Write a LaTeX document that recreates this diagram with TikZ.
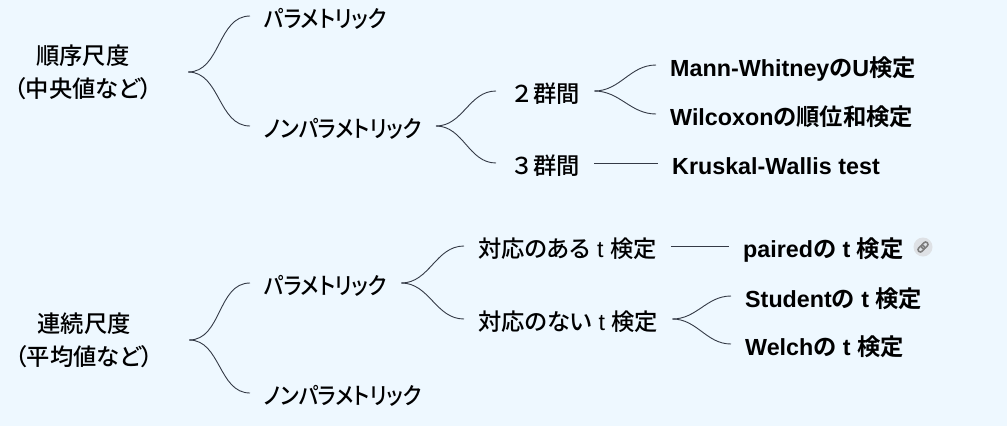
\documentclass[tikz,border=0pt]{standalone}
\usepackage{fontspec}
\setmainfont{Liberation Sans}
\newfontfamily\jp[RawFeature=+palt,BoldFont={Noto Sans CJK JP Bold}]{Noto Sans CJK JP Medium}
\newfontfamily\jpfull{Noto Sans CJK JP Medium}
\newfontfamily\katakana[RawFeature=+palt,FakeStretch=0.89]{Noto Sans CJK JP Medium}
\newcommand\ja[1]{{\jp #1}}
\newcommand\kt[1]{{\katakana #1}}
\definecolor{bgblue}{RGB}{238,248,255}
\definecolor{branchline}{RGB}{52,58,70}
\definecolor{iconbg}{RGB}{222,225,229}
\definecolor{icongray}{RGB}{125,125,125}
\begin{document}
\begin{tikzpicture}[x=1pt,y=-1pt,
    roottext/.style={align=center,minimum width=210pt,inner sep=0pt,font=\fontsize{23.3}{33}\selectfont\jp},
    branchtext/.style={anchor=west,inner xsep=14pt,inner ysep=0pt,text height=22pt,text depth=0pt,font=\fontsize{23.3}{28}\selectfont},
    leaftext/.style={branchtext,font=\fontsize{23.3}{28}\selectfont\bfseries},
    branch/.style={draw=branchline,line width=0.9pt},
    fork/.style={branch,out=0,in=180}]
    \fill[bgblue] (0,0) rectangle (1007,426);
    \useasboundingbox (0,0) rectangle (1007,426);
         \node[roottext] (ord) at (83,72) {順序尺度\\（中央値など）};
             \node[branchtext] (ordpara) at (250,16) {\kt{パラメトリック}};
             \node[branchtext] (ordnonpara) at (250,126) {\kt{ノンパラメトリック}};
             \draw[fork] (ord.east) to (ordpara.west);
             \draw[fork] (ord.east) to (ordnonpara.west);
         \node[branchtext] (two) at (496,91) {{\jpfull ２群間}};
         \node[branchtext] (three) at (496,163) {{\jpfull ３群間}};
             \draw[fork] (ordnonpara.east) to (two.west);
             \draw[fork] (ordnonpara.east) to (three.west);
         \node[leaftext] (mann) at (656,65) {Mann-Whitney\ja{の}U\ja{検定}};
         \node[leaftext] (wilcoxon) at (656,114) {Wilcoxon\ja{の順位和検定}};
         \node[leaftext] (kruskal) at (658,163) {Kruskal-Wallis test};
             \draw[fork] (two.east) to (mann.west);
             \draw[fork] (two.east) to (wilcoxon.west);
             \draw[branch] (three.east) to (kruskal.west);
         \node[roottext] (cont) at (84,340) {連続尺度\\（平均値など）};
             \node[branchtext] (contpara) at (250,283) {\kt{パラメトリック}};
             \node[branchtext] (contnonpara) at (250,393) {\kt{ノンパラメトリック}};
             \draw[fork] (cont.east) to (contpara.west);
             \draw[fork] (cont.east) to (contnonpara.west);
         \node[branchtext] (paired) at (464,246) {\ja{対応のある} t \ja{検定}};
         \node[branchtext] (unpaired) at (464,319) {\ja{対応のない} t \ja{検定}};
             \draw[fork] (contpara.east) to (paired.west);
             \draw[fork] (contpara.east) to (unpaired.west);
         \node[leaftext] (pairedt) at (729,246) {paired\ja{の} t \ja{検定}};
         \node[leaftext] (student) at (731,296) {Student\ja{の} t \ja{検定}};
         \node[leaftext] (welch) at (731,344) {Welch\ja{の} t \ja{検定}};
             \draw[branch] (paired.east) to (pairedt.west);
             \draw[fork] (unpaired.east) to (student.west);
             \draw[fork] (unpaired.east) to (welch.west);
         \node[circle,fill=iconbg,minimum size=19pt,inner sep=0pt] (pairedlink) at (923,247) {};
             \begin{scope}[shift={(pairedlink.center)},rotate=45]
                 \draw[icongray,line width=1.5pt,rounded corners=2pt] (-6,-2.3) rectangle (1.2,2.3);
                 \draw[icongray,line width=1.5pt,rounded corners=2pt] (-1.2,-2.3) rectangle (6,2.3);
             \end{scope}
\end{tikzpicture}
\end{document}
